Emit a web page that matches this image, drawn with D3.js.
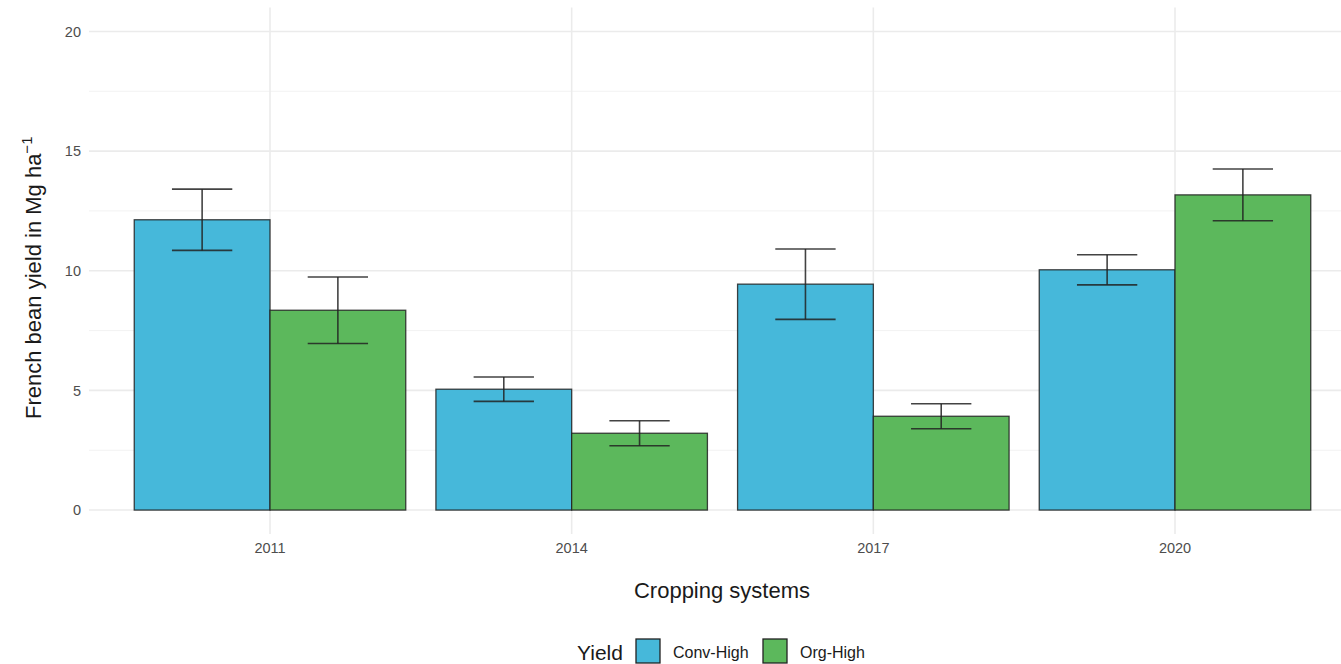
<!DOCTYPE html>
<html>
<head>
<meta charset="utf-8">
<script src="https://cdn.jsdelivr.net/npm/d3@7"></script>
<style>
  html, body { margin: 0; padding: 0; background: #fff; overflow: hidden; }
  svg { display: block; font-family: "Liberation Sans", Arial, sans-serif; }
</style>
</head>
<body>
<svg id="chart" width="1341" height="664"></svg>
<script>
// Harvest years and cropping systems
const years = ["2011", "2014", "2017", "2020"];
const systems = ["Conv-High", "Org-High"];

// Mean French bean yield (Mg/ha) per year, one array per system
const convMean = [12.13, 5.05, 9.44, 10.04];
const orgMean  = [8.35, 3.21, 3.92, 13.17];

// Standard errors shown as error bars
const convErr = [1.28, 0.51, 1.47, 0.63];
const orgErr  = [1.39, 0.52, 0.52, 1.08];

const yTicks = [0, 5, 10, 15, 20];
const yMinor = [2.5, 7.5, 12.5, 17.5];

const colors = { "Conv-High": "#46B8DA", "Org-High": "#5CB85C" };

const rows = [];
years.forEach((yr, i) => {
  rows.push({ year: yr, system: "Conv-High", mean: convMean[i], se: convErr[i] });
  rows.push({ year: yr, system: "Org-High",  mean: orgMean[i],  se: orgErr[i] });
});

const svg = d3.select("#chart");

// Panel geometry
const panel = { left: 89, right: 1356, top: 7.5, bottom: 534 };
const n = years.length;
const step = (panel.right - panel.left) / (n - 1 + 1.2);

const x = d3.scaleBand()
  .domain(years)
  .range([panel.left + 0.6 * step - step / 2, panel.right - 0.6 * step + step / 2])
  .paddingInner(0.1)
  .paddingOuter(0.05);

const xCenter = yr => x(yr) + x.bandwidth() / 2;

const xInner = d3.scaleBand().domain(systems).range([0, x.bandwidth()]);

const y = d3.scaleLinear().domain([-1, 21]).range([panel.bottom, panel.top]);

// Grid
const grid = svg.append("g");
grid.selectAll("line.minor")
  .data(yMinor).join("line")
  .attr("x1", panel.left).attr("x2", panel.right)
  .attr("y1", d => y(d)).attr("y2", d => y(d))
  .attr("stroke", "#F2F2F2").attr("stroke-width", 1);
grid.selectAll("line.majorY")
  .data(yTicks).join("line")
  .attr("x1", panel.left).attr("x2", panel.right)
  .attr("y1", d => y(d)).attr("y2", d => y(d))
  .attr("stroke", "#EBEBEB").attr("stroke-width", 1.6);
grid.selectAll("line.majorX")
  .data(years).join("line")
  .attr("x1", d => xCenter(d)).attr("x2", d => xCenter(d))
  .attr("y1", panel.top).attr("y2", panel.bottom)
  .attr("stroke", "#EBEBEB").attr("stroke-width", 1.6);

// Bars
const groups = svg.append("g").selectAll("g")
  .data(years).join("g")
  .attr("transform", d => `translate(${x(d)},0)`);

groups.selectAll("rect")
  .data(yr => rows.filter(r => r.year === yr))
  .join("rect")
  .attr("x", d => xInner(d.system))
  .attr("width", xInner.bandwidth())
  .attr("y", d => y(d.mean))
  .attr("height", d => y(0) - y(d.mean))
  .attr("fill", d => colors[d.system])
  .attr("stroke", "#222")
  .attr("stroke-opacity", 0.85)
  .attr("stroke-width", 1.3);

// Error bars (cap width 0.2 of category step)
const capHalf = 0.1 * step;
const eb = groups.selectAll("g.eb")
  .data(yr => rows.filter(r => r.year === yr))
  .join("g")
  .attr("stroke", "#222")
  .attr("stroke-opacity", 0.85)
  .attr("stroke-width", 1.6);
eb.append("line")
  .attr("x1", d => xInner(d.system) + xInner.bandwidth() / 2)
  .attr("x2", d => xInner(d.system) + xInner.bandwidth() / 2)
  .attr("y1", d => y(d.mean + d.se)).attr("y2", d => y(d.mean - d.se));
eb.append("line")
  .attr("x1", d => xInner(d.system) + xInner.bandwidth() / 2 - capHalf)
  .attr("x2", d => xInner(d.system) + xInner.bandwidth() / 2 + capHalf)
  .attr("y1", d => y(d.mean + d.se)).attr("y2", d => y(d.mean + d.se));
eb.append("line")
  .attr("x1", d => xInner(d.system) + xInner.bandwidth() / 2 - capHalf)
  .attr("x2", d => xInner(d.system) + xInner.bandwidth() / 2 + capHalf)
  .attr("y1", d => y(d.mean - d.se)).attr("y2", d => y(d.mean - d.se));

// Axes (text only, theme_minimal style)
const yAxis = svg.append("g")
  .attr("transform", `translate(${panel.left - 5},0)`)
  .call(d3.axisLeft(y).tickValues(yTicks).tickSize(0).tickPadding(3));
yAxis.select(".domain").remove();
yAxis.selectAll("text")
  .attr("fill", "#4D4D4D").style("font-size", "14.5px")
  .style("font-family", "Liberation Sans, Arial, sans-serif");

const xAxis = svg.append("g")
  .attr("transform", `translate(0,${panel.bottom + 7})`)
  .call(d3.axisBottom(x).tickSize(0).tickPadding(2));
xAxis.select(".domain").remove();
xAxis.selectAll("text")
  .attr("fill", "#4D4D4D").style("font-size", "14.5px")
  .style("font-family", "Liberation Sans, Arial, sans-serif");

// Axis titles
svg.append("text")
  .attr("x", 722)
  .attr("y", 598)
  .attr("text-anchor", "middle")
  .attr("fill", "#1a1a1a")
  .style("font-size", "22px")
  .text("Cropping systems");

const yt = svg.append("text")
  .attr("transform", `translate(41,${(panel.top + panel.bottom) / 2 + 7}) rotate(-90)`)
  .attr("text-anchor", "middle")
  .attr("fill", "#1a1a1a")
  .style("font-size", "22px");
yt.append("tspan").text("French bean yield in Mg ha");
yt.append("tspan").attr("dy", -9).style("font-size", "15px").text("\u22121");

// Legend
const legend = svg.append("g");
legend.append("text")
  .attr("x", 577).attr("y", 660)
  .attr("fill", "#1a1a1a")
  .style("font-size", "21px")
  .text("Yield");
const legendX = [636, 763];
const keys = legend.selectAll("g.key")
  .data(systems).join("g")
  .attr("transform", (d, i) => `translate(${legendX[i]},639)`);
keys.append("rect")
  .attr("width", 24).attr("height", 24)
  .attr("fill", d => colors[d])
  .attr("stroke", "#222").attr("stroke-width", 1.3);
keys.append("text")
  .attr("x", 37).attr("y", 19)
  .attr("fill", "#1a1a1a")
  .style("font-size", "16px")
  .text(d => d);
</script>
</body>
</html>
